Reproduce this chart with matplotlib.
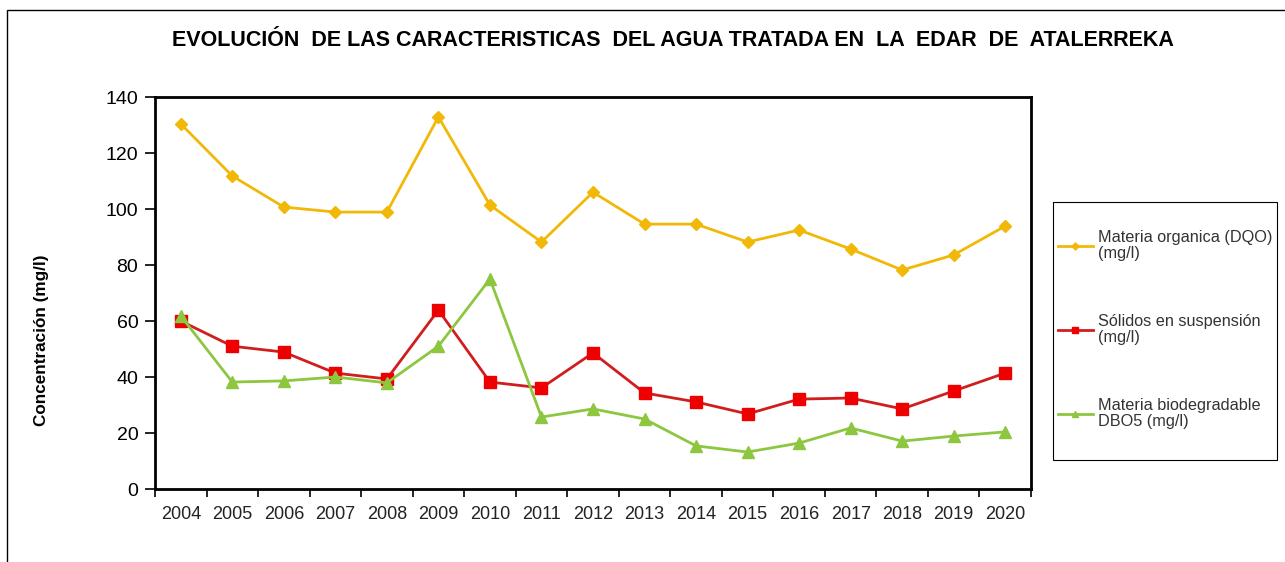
import numpy as np
import matplotlib.pyplot as plt
from matplotlib.patches import Rectangle

years = ['2004', '2005', '2006', '2007', '2008', '2009', '2010', '2011', '2012',
         '2013', '2014', '2015', '2016', '2017', '2018', '2019', '2020']

dqo = [130.4, 111.8, 100.7, 98.9, 98.9, 132.9, 101.4, 88.2, 106.0,
       94.6, 94.6, 88.2, 92.5, 85.7, 78.2, 83.6, 93.9]
solidos = [60.0, 51.0, 48.9, 41.4, 39.3, 63.9, 38.2, 36.1, 48.6,
           34.3, 31.1, 26.8, 32.1, 32.5, 28.6, 35.0, 41.4]
dbo5 = [61.8, 38.2, 38.6, 40.0, 37.9, 51.0, 75.0, 25.7, 28.6,
        25.0, 15.4, 13.2, 16.4, 21.8, 17.1, 18.9, 20.4]

plt.rcParams['font.family'] = ['Liberation Sans', 'DejaVu Sans']

W, H = 1285, 562
fig = plt.figure(figsize=(W / 100, H / 100), dpi=100)
ax = fig.add_axes([155 / W, 1 - 489 / H, 876 / W, 392 / H])

x = np.arange(len(years))
ax.plot(x, dqo, color='#F2B807', lw=2, marker='D', ms=6, mec='#F2B807', mfc='#F2B807',
        label='Materia organica (DQO)\n(mg/l)')
ax.plot(x, solidos, color='#D01E1E', lw=2, marker='s', ms=8, mec='#EE0000', mfc='#EE0000',
        label='Sólidos en suspensión\n(mg/l)')
ax.plot(x, dbo5, color='#8DC63F', lw=2, marker='^', ms=8, mec='#8DC63F', mfc='#8DC63F',
        label='Materia biodegradable\nDBO5 (mg/l)')

ax.set_xlim(-0.5, len(years) - 0.5)
ax.set_ylim(0, 140)
ax.set_yticks(range(0, 141, 20))
ax.set_xticks(x)
ax.set_xticklabels(years, fontsize=13, color='#222222')
ax.set_xticks(np.arange(-0.5, len(years), 1), minor=True)
ax.tick_params(axis='x', which='major', length=0, pad=12)
ax.tick_params(axis='x', which='minor', length=6, width=1.2, direction='out')
ax.tick_params(axis='y', length=7, width=1.2, labelsize=14, pad=5)
for s in ax.spines.values():
    s.set_linewidth(2)

fig.text(42 / W, 1 - 340 / H, 'Concentración (mg/l)', rotation=90,
         ha='center', va='center', fontsize=12.3, fontweight='bold')

fig.text(673 / W, 1 - 40 / H,
         'EVOLUCIÓN  DE LAS CARACTERISTICAS  DEL AGUA TRATADA EN  LA  EDAR  DE  ATALERREKA',
         ha='center', va='center', fontsize=15.5, fontweight='bold')

leg = fig.legend(loc='upper left', bbox_to_anchor=(1058 / W, 1 - 230 / H),
                 frameon=False, fontsize=11.7,
                 labelspacing=3.25, handlelength=2.15, handletextpad=0.3,
                 borderpad=0, borderaxespad=0, markerscale=0.6)
for t in leg.get_texts():
    t.set_color('#333333')
    t.set_linespacing(1.1)

fig.patches.append(Rectangle((1053 / W, 1 - 460 / H), 224 / W, 258 / H,
                             transform=fig.transFigure, fill=False,
                             edgecolor='black', lw=0.8))
fig.patches.append(Rectangle((7 / W, -0.1), 1.1, 1 - 10 / H + 0.1,
                             transform=fig.transFigure, fill=False,
                             edgecolor='black', lw=1))

fig.savefig('out.png', dpi=100)
